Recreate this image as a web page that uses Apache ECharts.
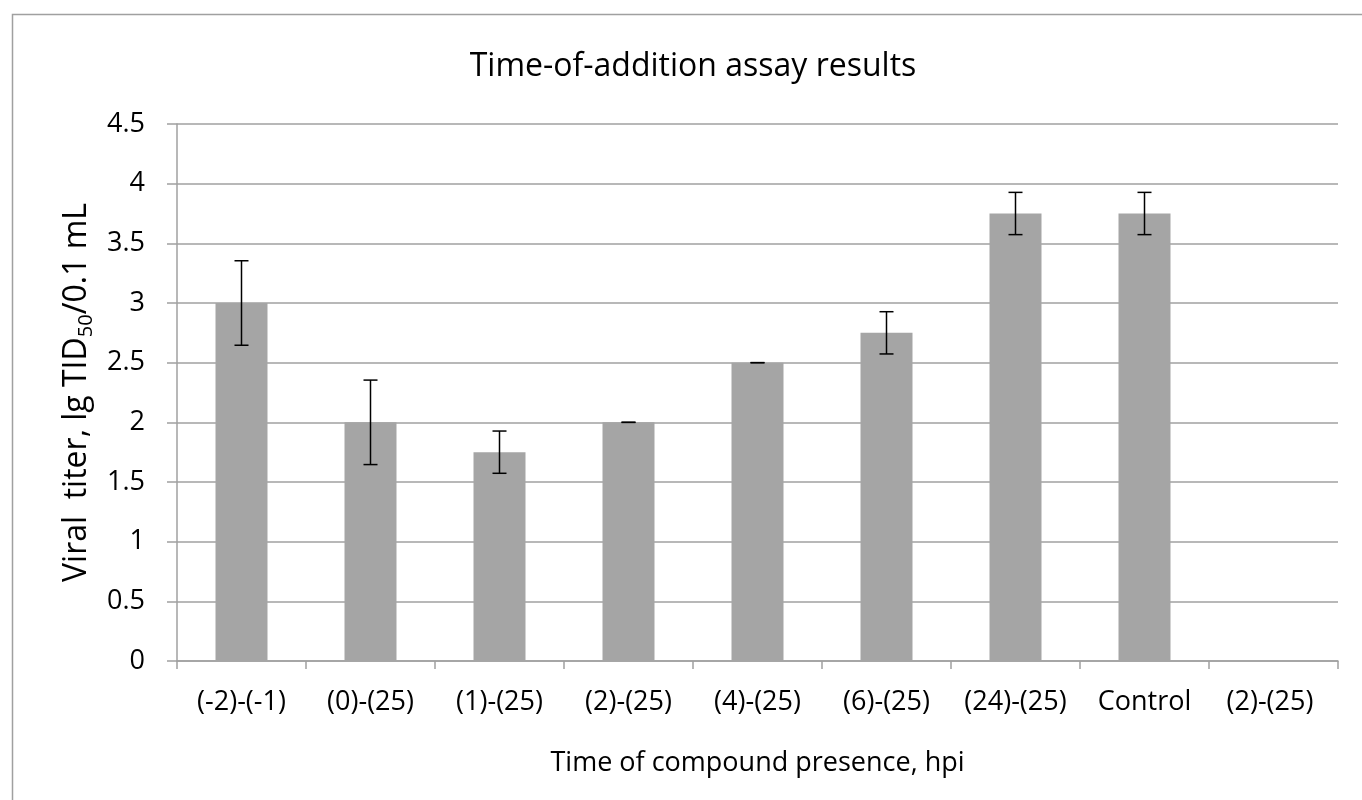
<!DOCTYPE html>
<html>
<head>
<meta charset="utf-8">
<script src="https://cdn.jsdelivr.net/npm/echarts@6/dist/echarts.min.js"></script>
<style>html,body{margin:0;padding:0;background:#fff}#c{width:1362px;height:800px}</style>
</head>
<body>
<div id="c"></div>
<script>
const categories = ['(-2)-(-1)', '(0)-(25)', '(1)-(25)', '(2)-(25)', '(4)-(25)', '(6)-(25)', '(24)-(25)', 'Control', '(2)-(25) '];
const values = [3, 2, 1.75, 2, 2.5, 2.75, 3.75, 3.75, null];
const errors = [0.354, 0.354, 0.177, 0, 0, 0.177, 0.177, 0.177, null];
const yTicks = [0, 0.5, 1, 1.5, 2, 2.5, 3, 3.5, 4, 4.5];

const FONT = '"Open Sans", "Noto Sans", sans-serif';
const chart = echarts.init(document.getElementById('c'));
const errData = values.map((v, i) => v == null ? null : [i, v - errors[i], v + errors[i]]).filter(d => d);

chart.setOption({
  animation: false,
  backgroundColor: '#fff',
  graphic: [{
    type: 'rect', shape: { x: 12.5, y: 14.5, width: 1400, height: 900 },
    style: { fill: 'none', stroke: '#a0a0a0', lineWidth: 1.5 }, silent: true, z: -1
  }],
  title: {
    text: 'Time-of-addition assay results',
    left: 688, top: 46, textAlign: 'center',
    textStyle: { fontFamily: FONT, fontSize: 32, fontWeight: 'normal', color: '#000' }
  },
  grid: { left: 177, right: 24, top: 124, bottom: 139 },
  xAxis: {
    type: 'category', data: categories,
    name: 'Time of compound presence, hpi', nameLocation: 'middle', nameGap: 89,
    nameTextStyle: { fontFamily: FONT, fontSize: 27, color: '#000' },
    axisLine: { lineStyle: { color: '#a0a0a0', width: 1.5 } },
    axisTick: { show: true, length: 8, lineStyle: { color: '#a0a0a0', width: 1.5 } },
    axisLabel: { fontFamily: FONT, fontSize: 27, color: '#000', margin: 28, interval: 0 }
  },
  yAxis: {
    type: 'value', min: 0, max: 4.5, interval: 0.5,
    name: '{a|Viral  titer, lg TID}{s|50}{a|/0.1 mL}', nameLocation: 'middle', nameGap: 62, nameRotate: 90,
    nameTextStyle: {
      rich: {
        a: { fontFamily: FONT, fontSize: 32, color: '#000' },
        s: { fontFamily: FONT, fontSize: 20, color: '#000', padding: [18, 0, 0, 0] }
      }
    },
    axisLine: { show: true, lineStyle: { color: '#a0a0a0', width: 1.5 } },
    axisTick: { show: true, length: 10, lineStyle: { color: '#a0a0a0', width: 1.5 } },
    axisLabel: { fontFamily: FONT, fontSize: 27, color: '#000', margin: 32,
      formatter: v => yTicks.includes(v) ? String(v) : '' },
    splitLine: { lineStyle: { color: '#a0a0a0', width: 1.5 } }
  },
  series: [{
    type: 'bar', data: values, barWidth: 52,
    itemStyle: { color: '#a5a5a5' }
  }, {
    type: 'custom', data: errData, z: 10,
    renderItem: function (params, api) {
      const x = api.value(0);
      const lo = api.coord([x, api.value(1)]);
      const hi = api.coord([x, api.value(2)]);
      const hw = 7;
      const st = { stroke: '#000', lineWidth: 1.5 };
      return { type: 'group', children: [
        { type: 'line', shape: { x1: lo[0], y1: lo[1], x2: hi[0], y2: hi[1] }, style: st },
        { type: 'line', shape: { x1: lo[0] - hw, y1: lo[1], x2: lo[0] + hw, y2: lo[1] }, style: st },
        { type: 'line', shape: { x1: hi[0] - hw, y1: hi[1], x2: hi[0] + hw, y2: hi[1] }, style: st }
      ]};
    }
  }]
});
</script>
</body>
</html>
